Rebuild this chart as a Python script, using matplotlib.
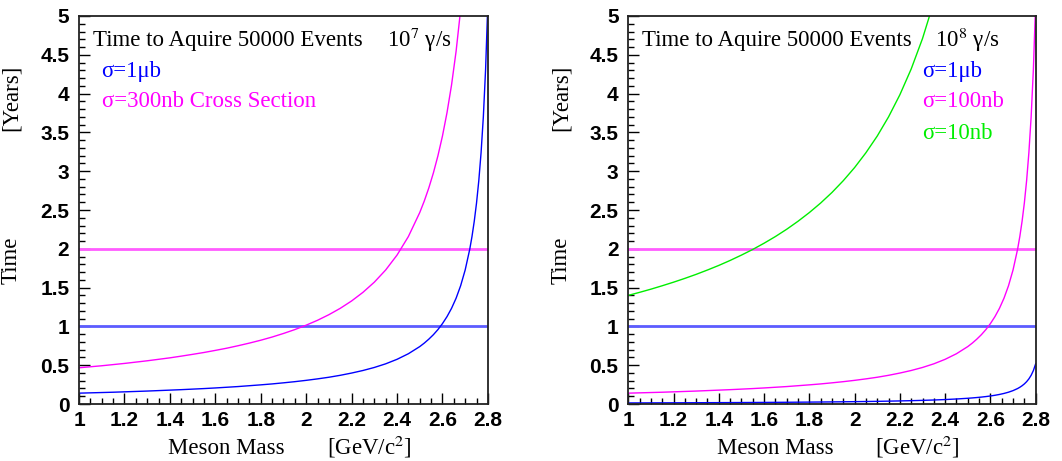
import numpy as np
import matplotlib
matplotlib.use("Agg")
import matplotlib.pyplot as plt
from matplotlib.ticker import MultipleLocator

plt.rcParams['mathtext.fontset'] = 'stix'

# mass grid (GeV/c^2), denser towards the threshold
mass = [1.00, 1.05, 1.10, 1.15, 1.20, 1.25, 1.30, 1.35, 1.40, 1.45, 1.50, 1.55,
        1.60, 1.65, 1.70, 1.75, 1.80, 1.85, 1.90, 1.95, 2.00, 2.05, 2.10, 2.15,
        2.20, 2.25, 2.30, 2.35, 2.40, 2.45, 2.50, 2.52, 2.54, 2.56, 2.58, 2.60,
        2.62, 2.64, 2.66, 2.68, 2.70, 2.72, 2.73, 2.74, 2.75, 2.76, 2.77, 2.78,
        2.79, 2.80]

# 10^7 gamma/s, sigma = 1 ub  [years]
left_blue = [0.140, 0.144, 0.148, 0.152, 0.157, 0.162, 0.167, 0.173, 0.179, 0.185,
             0.192, 0.199, 0.207, 0.216, 0.225, 0.236, 0.247, 0.259, 0.273, 0.288,
             0.305, 0.324, 0.345, 0.370, 0.399, 0.432, 0.471, 0.518, 0.576, 0.648,
             0.740, 0.785, 0.836, 0.893, 0.959, 1.036, 1.126, 1.233, 1.363, 1.524,
             1.727, 1.992, 2.158, 2.355, 2.590, 2.878, 3.238, 3.700, 4.317, 5.180]

# 10^7 gamma/s, sigma = 300 nb
mass_lm = mass[:40]
left_mag = [0.467, 0.480, 0.493, 0.508, 0.523, 0.540, 0.557, 0.576, 0.595, 0.617,
            0.640, 0.664, 0.691, 0.719, 0.751, 0.785, 0.822, 0.863, 0.909, 0.959,
            1.016, 1.079, 1.151, 1.233, 1.328, 1.439, 1.570, 1.727, 1.919, 2.158,
            2.467, 2.616, 2.785, 2.977, 3.198, 3.453, 3.754, 4.111, 4.544, 5.079]

# 10^8 gamma/s
right_blue = [0.0140, 0.0144, 0.0148, 0.0152, 0.0157, 0.0162, 0.0167, 0.0173, 0.0179,
              0.0185, 0.0192, 0.0199, 0.0207, 0.0216, 0.0225, 0.0236, 0.0247, 0.0259,
              0.0273, 0.0288, 0.0305, 0.0324, 0.0345, 0.0370, 0.0399, 0.0432, 0.0471,
              0.0518, 0.0576, 0.0648, 0.0740, 0.0785, 0.0836, 0.0893, 0.0959, 0.1036,
              0.1126, 0.1233, 0.1363, 0.1524, 0.1727, 0.1992, 0.2158, 0.2355, 0.2590,
              0.2878, 0.3238, 0.3700, 0.4317, 0.5180]
right_mag = [0.140, 0.144, 0.148, 0.152, 0.157, 0.162, 0.167, 0.173, 0.179, 0.185,
             0.192, 0.199, 0.207, 0.216, 0.225, 0.236, 0.247, 0.259, 0.273, 0.288,
             0.305, 0.324, 0.345, 0.370, 0.399, 0.432, 0.471, 0.518, 0.576, 0.648,
             0.740, 0.785, 0.836, 0.893, 0.959, 1.036, 1.126, 1.233, 1.363, 1.524,
             1.727, 1.992, 2.158, 2.355, 2.590, 2.878, 3.238, 3.700, 4.317, 5.180]
mass_g = mass[:28]
right_green = [1.400, 1.439, 1.480, 1.524, 1.570, 1.619, 1.671, 1.727, 1.786, 1.850,
               1.919, 1.992, 2.072, 2.158, 2.252, 2.355, 2.467, 2.590, 2.726, 2.878,
               3.047, 3.238, 3.453, 3.700, 3.985, 4.317, 4.709, 5.180]

xlabels = ['1', '1.2', '1.4', '1.6', '1.8', '2', '2.2', '2.4', '2.6', '2.8']
ylabels = ['0', '0.5', '1', '1.5', '2', '2.5', '3', '3.5', '4', '4.5', '5']

serif = 'Liberation Serif'
fs = 16.5
fig = plt.figure(figsize=(10.62, 4.61), dpi=100)
ax1 = fig.add_axes([0.0744, 0.1236, 0.385, 0.8417])
ax2 = fig.add_axes([0.5916, 0.1236, 0.3836, 0.8417])

for ax in (ax1, ax2):
    ax.axhline(2, color='#ff5cff', lw=2)
    ax.axhline(1, color='#5c5cff', lw=2)
    ax.set_xlim(1, 2.8)
    ax.set_ylim(0, 5)
    ax.set_xticks(np.arange(1, 2.81, 0.2))
    ax.set_xticklabels(xlabels)
    ax.set_yticks(np.arange(0, 5.01, 0.5))
    ax.set_yticklabels(ylabels)
    ax.xaxis.set_minor_locator(MultipleLocator(0.05))
    ax.yaxis.set_minor_locator(MultipleLocator(0.1))
    ax.tick_params(which='both', direction='in', top=False, right=False)
    ax.tick_params(which='major', length=8, width=1)
    ax.tick_params(which='minor', length=4, width=1)
    ax.tick_params(axis='y', pad=7)
    ax.tick_params(axis='x', pad=5)
    for lab in ax.get_xticklabels() + ax.get_yticklabels():
        lab.set_fontfamily('Liberation Sans')
        lab.set_fontweight('bold')
        lab.set_fontsize(15)
    for s in ax.spines.values():
        s.set_linewidth(1.3)
        s.set_color('#222222')
    ax.text(-0.165, 0.37, 'Time', rotation=90, transform=ax.transAxes,
            family=serif, fontsize=fs, ha='center', va='center')
    ax.text(-0.165, 0.79, '[Years]', rotation=90, transform=ax.transAxes,
            family=serif, fontsize=fs, ha='center', va='center')
    ax.text(0.36, -0.129, 'Meson Mass', transform=ax.transAxes,
            family=serif, fontsize=fs, ha='center', va='baseline')
    ax.text(0.71, -0.129, '[GeV/c$^2$]', transform=ax.transAxes,
            family=serif, fontsize=fs, ha='center', va='baseline')
    ax.text(0.033, 0.938, 'Time to Aquire 50000 Events', transform=ax.transAxes,
            family=serif, fontsize=fs, ha='left', va='center')

ax1.plot(mass, left_blue, color='#0000ff', lw=1)
ax1.plot(mass_lm, left_mag, color='#ff00ff', lw=1)
ax1.text(0.753, 0.938, '10$^7$ γ/s', transform=ax1.transAxes,
         family=serif, fontsize=fs, ha='left', va='center')
ax1.text(0.055, 0.856, 'σ=1μb', transform=ax1.transAxes, color='#0000ff',
         family=serif, fontsize=fs, ha='left', va='center')
ax1.text(0.055, 0.779, 'σ=300nb Cross Section', transform=ax1.transAxes, color='#ff00ff',
         family=serif, fontsize=fs, ha='left', va='center')

ax2.plot(mass, right_blue, color='#0000ff', lw=1)
ax2.plot(mass, right_mag, color='#ff00ff', lw=1)
ax2.plot(mass_g, right_green, color='#00ee00', lw=1)
ax2.text(0.753, 0.938, '10$^8$ γ/s', transform=ax2.transAxes,
         family=serif, fontsize=fs, ha='left', va='center')
ax2.text(0.722, 0.856, 'σ=1μb', transform=ax2.transAxes, color='#0000ff',
         family=serif, fontsize=fs, ha='left', va='center')
ax2.text(0.722, 0.779, 'σ=100nb', transform=ax2.transAxes, color='#ff00ff',
         family=serif, fontsize=fs, ha='left', va='center')
ax2.text(0.722, 0.698, 'σ=10nb', transform=ax2.transAxes, color='#00ee00',
         family=serif, fontsize=fs, ha='left', va='center')

fig.savefig('out.png', dpi=100)
